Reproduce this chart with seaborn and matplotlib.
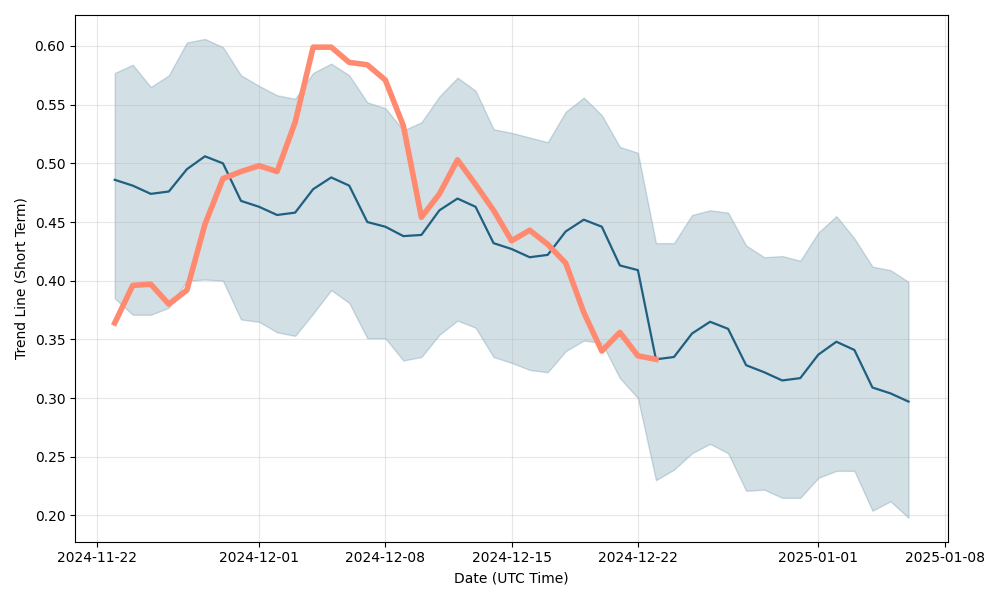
import pandas as pd
import matplotlib
matplotlib.use('Agg')
import matplotlib.pyplot as plt
import seaborn as sns
import numpy as np


dates = pd.date_range('2024-11-23', '2025-01-06', freq='D')

trend = [0.486, 0.481, 0.474, 0.476, 0.495, 0.506, 0.500, 0.468, 0.463, 0.456,
         0.458, 0.478, 0.488, 0.481, 0.450, 0.446, 0.438, 0.439, 0.460, 0.470,
         0.463, 0.432, 0.427, 0.420, 0.422, 0.442, 0.452, 0.446, 0.413, 0.409,
         0.333, 0.335, 0.355, 0.365, 0.359, 0.328, 0.322, 0.315, 0.317, 0.337,
         0.348, 0.341, 0.309, 0.304, 0.297]

upper = [0.577, 0.584, 0.565, 0.575, 0.603, 0.606, 0.599, 0.575, 0.566, 0.558,
         0.555, 0.577, 0.585, 0.575, 0.552, 0.547, 0.528, 0.535, 0.557, 0.573,
         0.562, 0.529, 0.526, 0.522, 0.518, 0.544, 0.556, 0.541, 0.514, 0.509,
         0.432, 0.432, 0.456, 0.460, 0.458, 0.430, 0.420, 0.421, 0.417, 0.441,
         0.455, 0.436, 0.412, 0.409, 0.399]

lower = [0.385, 0.371, 0.371, 0.377, 0.400, 0.401, 0.400, 0.367, 0.365, 0.356,
         0.353, 0.372, 0.392, 0.381, 0.351, 0.351, 0.332, 0.335, 0.354, 0.366,
         0.360, 0.335, 0.330, 0.324, 0.322, 0.340, 0.349, 0.347, 0.317, 0.300,
         0.230, 0.239, 0.253, 0.261, 0.253, 0.221, 0.222, 0.215, 0.215, 0.232,
         0.238, 0.238, 0.204, 0.212, 0.198]

# actual values only cover the first month
actual = [0.364, 0.396, 0.397, 0.380, 0.392, 0.448, 0.487, 0.493, 0.498, 0.493,
          0.535, 0.599, 0.599, 0.586, 0.584, 0.571, 0.532, 0.454, 0.474, 0.503,
          0.482, 0.460, 0.434, 0.443, 0.431, 0.415, 0.373, 0.340, 0.356, 0.336,
          0.333]

df = pd.DataFrame({'date': dates, 'trend': trend, 'upper': upper, 'lower': lower})
df_actual = pd.DataFrame({'date': dates[:len(actual)], 'actual': actual})

blue = '#1f5f80'
orange = '#ff8a70'

fig, ax = plt.subplots(figsize=(10, 6), dpi=100)

ax.fill_between(df['date'], df['lower'], df['upper'], color=blue, alpha=0.2)
sns.lineplot(data=df, x='date', y='trend', color=blue, linewidth=1.6, ax=ax)
sns.lineplot(data=df_actual, x='date', y='actual', color=orange, linewidth=4, ax=ax)

ax.grid(True, alpha=0.3)
ax.set_xlabel('Date (UTC Time)')
ax.set_ylabel('Trend Line (Short Term)')

plt.tight_layout()
plt.savefig('out.png')
